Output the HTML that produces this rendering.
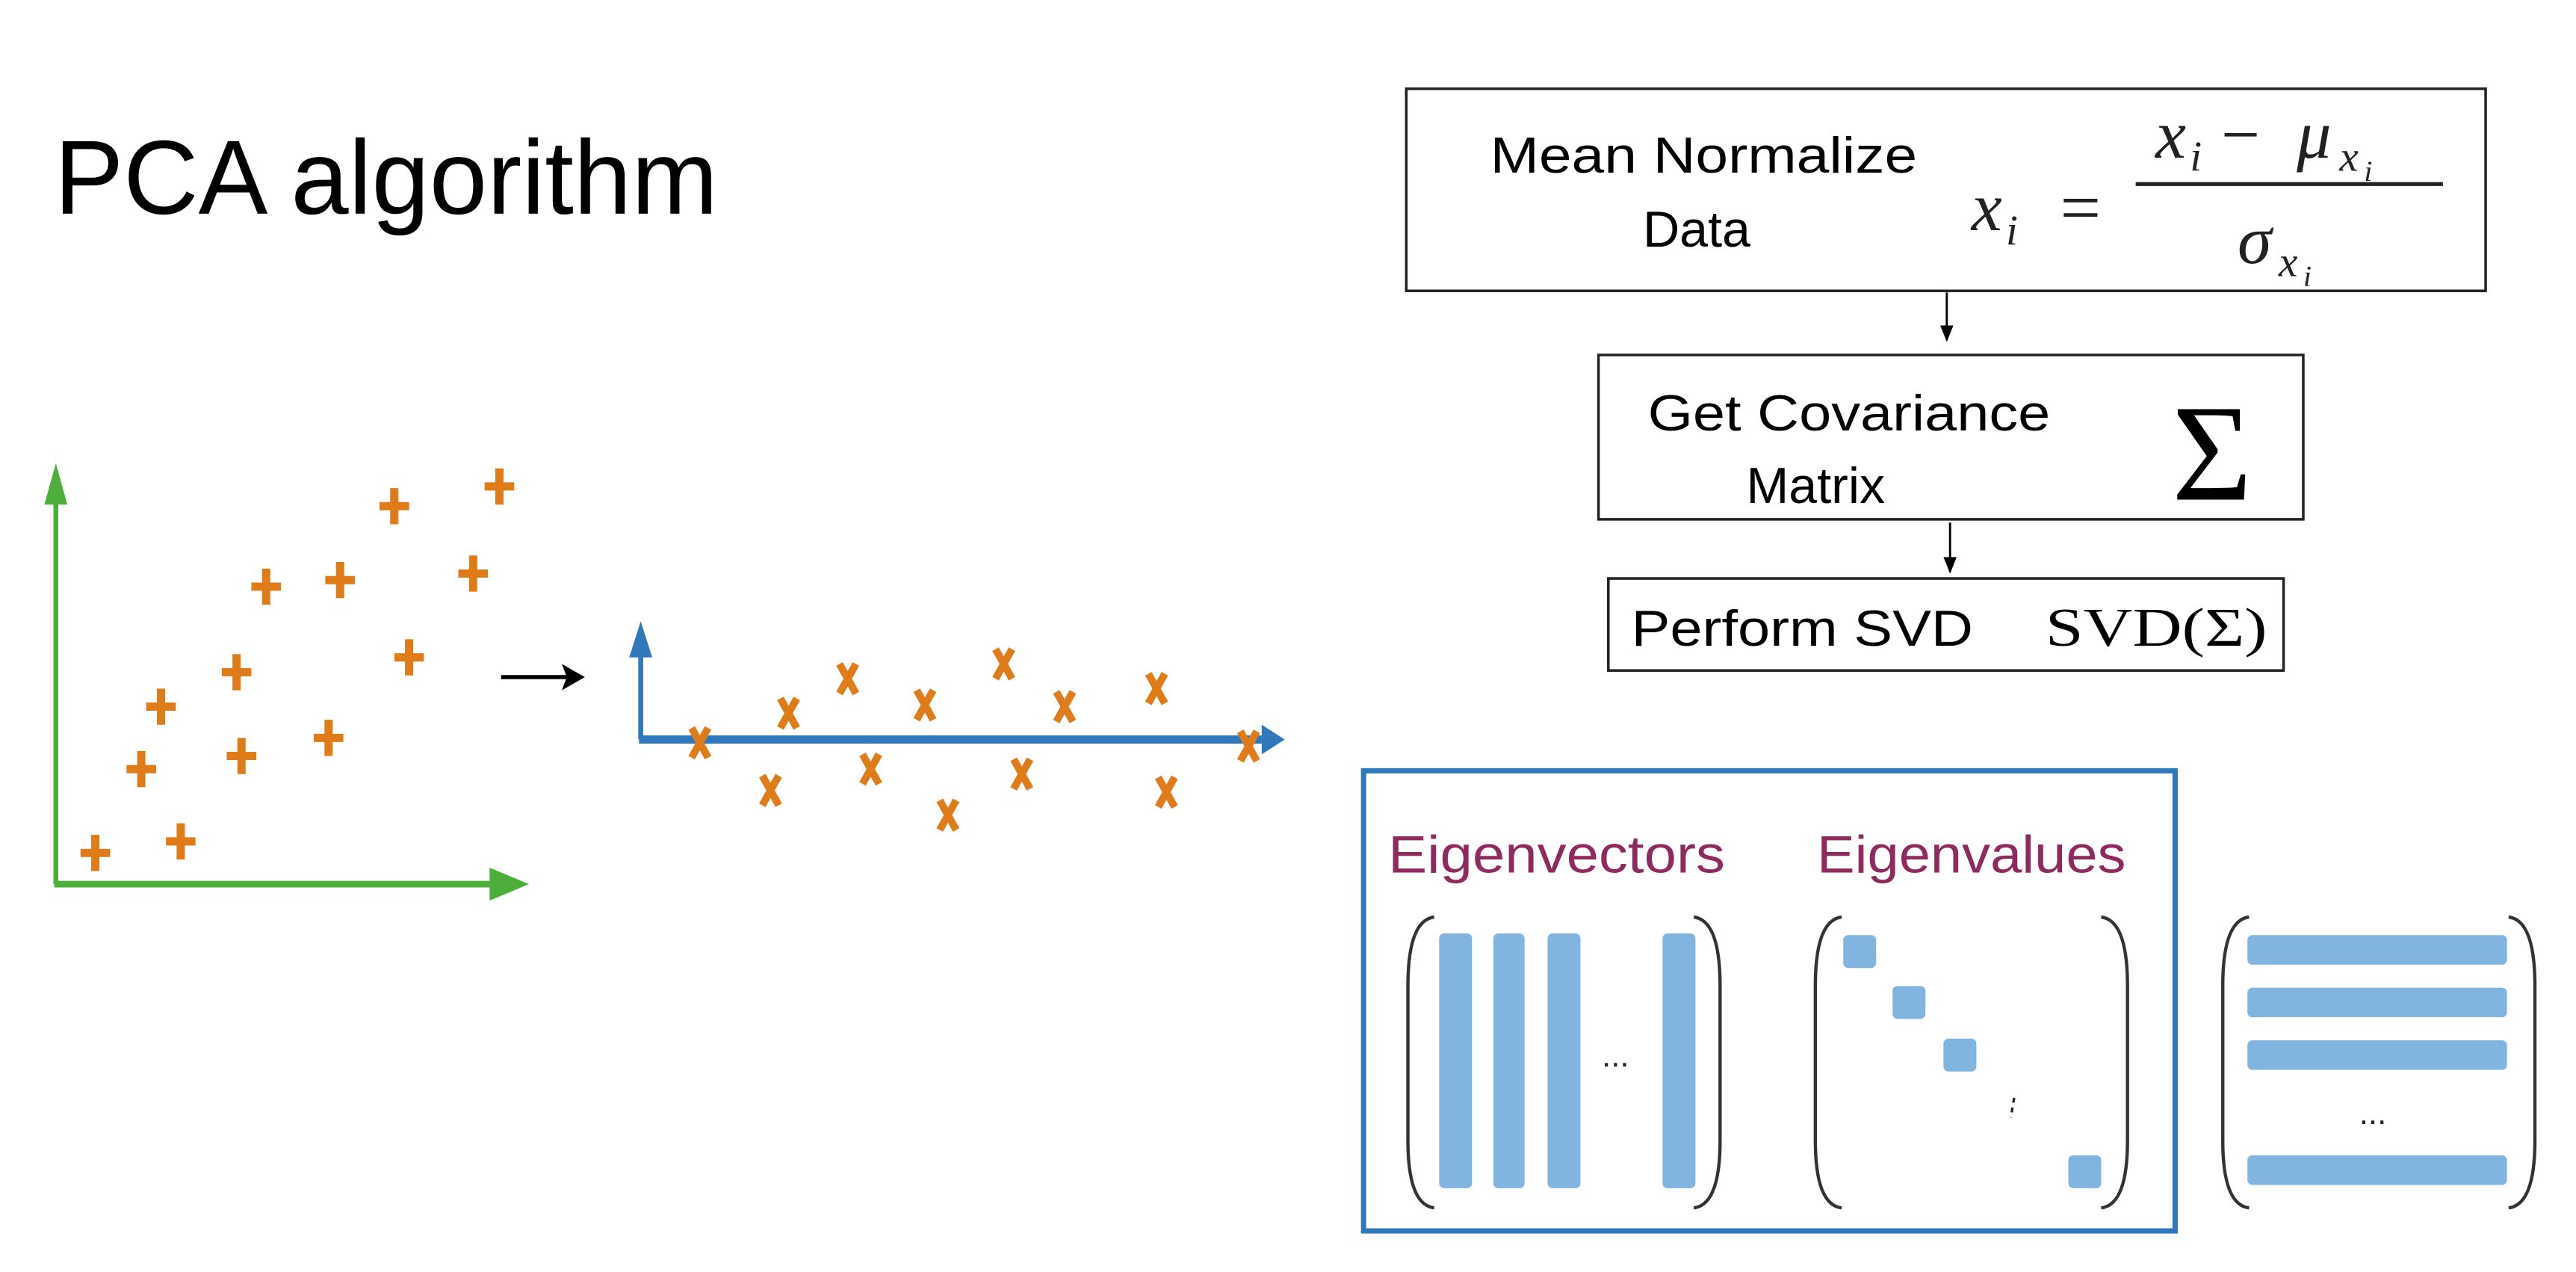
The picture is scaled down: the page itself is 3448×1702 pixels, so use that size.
<!DOCTYPE html>
<html><head><meta charset="utf-8"><style>
html,body{margin:0;padding:0;background:#fff;}
svg{display:block;}
</style></head><body>
<svg width="3448" height="1702" viewBox="0 0 1568 774" xmlns="http://www.w3.org/2000/svg" font-family="Liberation Sans, sans-serif">
<defs>
<marker id="ab" markerWidth="10" markerHeight="10" refX="9" refY="5" orient="auto" markerUnits="userSpaceOnUse"><path d="M0,1 L10,5 L0,9 Z" fill="#000"/></marker>
</defs>
<rect width="1568" height="774" fill="#fff"/>
<text x="33" y="130" font-size="64" textLength="404" lengthAdjust="spacingAndGlyphs">PCA algorithm</text>

<!-- Box 1 -->
<rect x="856" y="54" width="657" height="123" fill="none" stroke="#222" stroke-width="1.6"/>
<text x="907" y="105" font-size="31" textLength="260" lengthAdjust="spacingAndGlyphs">Mean Normalize</text>
<text x="1000" y="150" font-size="31">Data</text>
<g font-family="Liberation Serif, serif" fill="#222">
<text x="1200" y="140" font-size="42" font-style="italic">x</text>
<text x="1221" y="149" font-size="26" font-style="italic">i</text>
<text x="1254" y="141" font-size="44">=</text>
<line x1="1300" y1="112" x2="1487" y2="112" stroke="#222" stroke-width="2.4"/>
<text x="1312" y="96" font-size="42" font-style="italic">x</text>
<text x="1333" y="104" font-size="26" font-style="italic">i</text>
<text x="1352" y="96" font-size="42">−</text>
<text x="1398" y="96" font-size="42" font-style="italic">μ</text>
<text x="1424" y="104" font-size="26" font-style="italic">x</text>
<text x="1439" y="110" font-size="18" font-style="italic">i</text>
<text x="1362" y="160" font-size="42" font-style="italic">σ</text>
<text x="1387" y="168" font-size="26" font-style="italic">x</text>
<text x="1402" y="174" font-size="18" font-style="italic">i</text>
</g>
<line x1="1185" y1="178" x2="1185" y2="207" stroke="#000" stroke-width="1.3" marker-end="url(#ab)"/>

<!-- Box 2 -->
<rect x="973" y="216" width="429" height="100" fill="none" stroke="#222" stroke-width="1.6"/>
<text x="1003" y="262" font-size="31" textLength="245" lengthAdjust="spacingAndGlyphs">Get Covariance</text>
<text x="1063" y="306" font-size="31">Matrix</text>
<text x="1322" y="304" font-size="84" font-family="Liberation Serif, serif">Σ</text>
<line x1="1187" y1="318" x2="1187" y2="348" stroke="#000" stroke-width="1.3" marker-end="url(#ab)"/>

<!-- Box 3 -->
<rect x="979" y="352" width="411" height="56" fill="none" stroke="#222" stroke-width="1.6"/>
<text x="993" y="393" font-size="31" textLength="208" lengthAdjust="spacingAndGlyphs">Perform SVD</text>
<text x="1245" y="393" font-size="33" font-family="Liberation Serif, serif" textLength="135" lengthAdjust="spacingAndGlyphs">SVD(Σ)</text>

<!-- Blue box -->
<rect x="830" y="469" width="494" height="280" fill="none" stroke="#2f78bb" stroke-width="3.2"/>
<text x="845" y="531" font-size="32" fill="#8e2a5e" textLength="205" lengthAdjust="spacingAndGlyphs">Eigenvectors</text>
<text x="1106" y="531" font-size="32" fill="#8e2a5e" textLength="188" lengthAdjust="spacingAndGlyphs">Eigenvalues</text>

<g fill="none" stroke="#333" stroke-width="2">
<path d="M873,558 Q857,560 857,600 L857,694 Q857,733 873,735"/>
<path d="M1031,558 Q1047,560 1047,600 L1047,694 Q1047,733 1031,735"/>
<path d="M1121,558 Q1105,560 1105,600 L1105,694 Q1105,733 1121,735"/>
<path d="M1279,558 Q1295,560 1295,600 L1295,694 Q1295,733 1279,735"/>
<path d="M1369,558 Q1353,560 1353,600 L1353,694 Q1353,733 1369,735"/>
<path d="M1527,558 Q1543,560 1543,600 L1543,694 Q1543,733 1527,735"/>
</g>
<g fill="#82b4e0">
<rect x="876" y="568" width="20" height="155" rx="3"/>
<rect x="909" y="568" width="19" height="155" rx="3"/>
<rect x="942" y="568" width="20" height="155" rx="3"/>
<rect x="1012" y="568" width="20" height="155" rx="3"/>
<rect x="1122" y="569" width="20" height="20" rx="3"/>
<rect x="1152" y="600" width="20" height="20" rx="3"/>
<rect x="1183" y="632" width="20" height="20" rx="3"/>
<rect x="1259" y="703" width="20" height="20" rx="3"/>
<rect x="1368" y="569" width="158" height="18" rx="3"/>
<rect x="1368" y="601" width="158" height="18" rx="3"/>
<rect x="1368" y="633" width="158" height="18" rx="3"/>
<rect x="1368" y="703" width="158" height="18" rx="3"/>
</g>
<text x="975" y="649" font-size="20" fill="#222">...</text>
<text x="1436" y="684" font-size="20" fill="#222">...</text>
<line x1="1226" y1="668" x2="1224" y2="680" stroke="#222" stroke-width="1.5" stroke-dasharray="3,3"/>

<!-- Left plot -->
<g stroke="#4caf3a" fill="#4caf3a">
<line x1="34" y1="538" x2="34" y2="300" stroke-width="3"/>
<path d="M34,282 L27,307 L41,307 Z" stroke="none"/>
<line x1="33" y1="538" x2="305" y2="538" stroke-width="4"/>
<path d="M322,538 L298,528 L298,548 Z" stroke="none"/>
</g>
<g stroke="#e07b1a" stroke-width="5" fill="none">
<path d="M58,508v22M49,519h18"/>
<path d="M110,501v22M101,512h18"/>
<path d="M86,457v22M77,468h18"/>
<path d="M147,449v22M138,460h18"/>
<path d="M200,438v22M191,449h18"/>
<path d="M98,419v22M89,430h18"/>
<path d="M144,398v22M135,409h18"/>
<path d="M249,389v22M240,400h18"/>
<path d="M162,346v22M153,357h18"/>
<path d="M207,342v22M198,353h18"/>
<path d="M288,338v22M279,349h18"/>
<path d="M240,297v22M231,308h18"/>
<path d="M304,285v22M295,296h18"/>
</g>
<line x1="305" y1="412" x2="345" y2="412" stroke="#000" stroke-width="2.5"/>
<path d="M356,412 L342,404 L345,412 L342,420 Z" fill="#000"/>

<!-- Blue plot -->
<g stroke="#2f78bb" fill="#2f78bb">
<line x1="390" y1="450" x2="390" y2="395" stroke-width="3"/>
<path d="M390,378 L383,400 L397,400 Z" stroke="none"/>
<line x1="389" y1="450" x2="768" y2="450" stroke-width="5"/>
<path d="M782,450 L768,441 L768,459 Z" stroke="none"/>
</g>
<g stroke="#e07b1a" stroke-width="4.5" fill="none">
<path d="M421,443l10,18M431,443l-10,18"/>
<path d="M475,425l10,18M485,425l-10,18"/>
<path d="M511,404l10,18M521,404l-10,18"/>
<path d="M558,420l10,18M568,420l-10,18"/>
<path d="M606,395l10,18M616,395l-10,18"/>
<path d="M643,421l10,18M653,421l-10,18"/>
<path d="M699,410l10,18M709,410l-10,18"/>
<path d="M464,472l10,18M474,472l-10,18"/>
<path d="M525,459l10,18M535,459l-10,18"/>
<path d="M572,487l10,18M582,487l-10,18"/>
<path d="M617,462l10,18M627,462l-10,18"/>
<path d="M705,473l10,18M715,473l-10,18"/>
<path d="M755,445l10,18M765,445l-10,18"/>
</g>
</svg>
</body></html>
